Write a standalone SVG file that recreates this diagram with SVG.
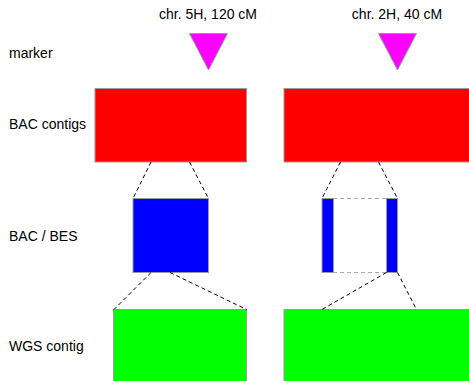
<svg xmlns="http://www.w3.org/2000/svg" width="469" height="381" viewBox="0 0 469 381">
<style>
text{font-family:"Liberation Sans",Arial,sans-serif;font-size:14px;fill:#000}
.s{stroke:#999;stroke-width:1}
.d{stroke:#000;stroke-width:1;stroke-dasharray:4,3;fill:none}
.g{stroke:#aaa;stroke-width:1;stroke-dasharray:4,3;fill:none}
</style>
<rect width="469" height="381" fill="#fff"/>
<g id="labels">
<text x="9" y="58">marker</text>
<text x="9" y="129">BAC contigs</text>
<text x="9" y="241">BAC / BES</text>
<text x="9" y="351">WGS contig</text>
</g>
<g id="marker1">
<text x="208" y="18.5" text-anchor="middle">chr. 5H, 120 cM</text>
<polygon class="s" points="189.5,33.5 227.5,33.5 208.5,70" fill="#ff00ff"/>
</g>
<g id="marker2">
<text x="397" y="18.5" text-anchor="middle">chr. 2H, 40 cM</text>
<polygon class="s" points="378.5,33.5 416.5,33.5 397.5,70" fill="#ff00ff"/>
</g>
<g id="bac1"><rect class="s" x="95" y="88.5" width="151.5" height="73.5" fill="#ff0000"/></g>
<g id="bac2"><rect class="s" x="284" y="88.5" width="190" height="73.5" fill="#ff0000"/></g>
<g id="bes1"><rect class="s" x="133" y="198.5" width="75.5" height="74" fill="#0000ff"/></g>
<g id="bes2">
<line class="g" x1="333" y1="198.5" x2="386.5" y2="198.5"/>
<line class="g" x1="333" y1="272.5" x2="386.5" y2="272.5"/>
<rect class="s" x="322" y="198.5" width="11.5" height="74" fill="#0000ff"/>
<rect class="s" x="386.5" y="198.5" width="11" height="74" fill="#0000ff"/>
</g>
<g id="wgs1"><rect class="s" x="113.5" y="309.5" width="133" height="75" fill="#00ff00"/></g>
<g id="wgs2"><rect class="s" x="284" y="309.5" width="190" height="75" fill="#00ff00"/></g>
<g id="connectors">
<line class="d" x1="151" y1="162" x2="133" y2="198.5"/>
<line class="d" x1="189.5" y1="162" x2="208.5" y2="198.5"/>
<line class="d" x1="151" y1="272.5" x2="114" y2="309.5"/>
<line class="d" x1="170" y1="272.5" x2="246.5" y2="309.5"/>
<line class="d" x1="340.5" y1="162" x2="322" y2="198.5"/>
<line class="d" x1="378.5" y1="162" x2="397.5" y2="198.5"/>
<line class="d" x1="386.5" y1="272.5" x2="322" y2="309.5"/>
<line class="d" x1="397.5" y1="272.5" x2="416.5" y2="309.5"/>
</g>
</svg>
